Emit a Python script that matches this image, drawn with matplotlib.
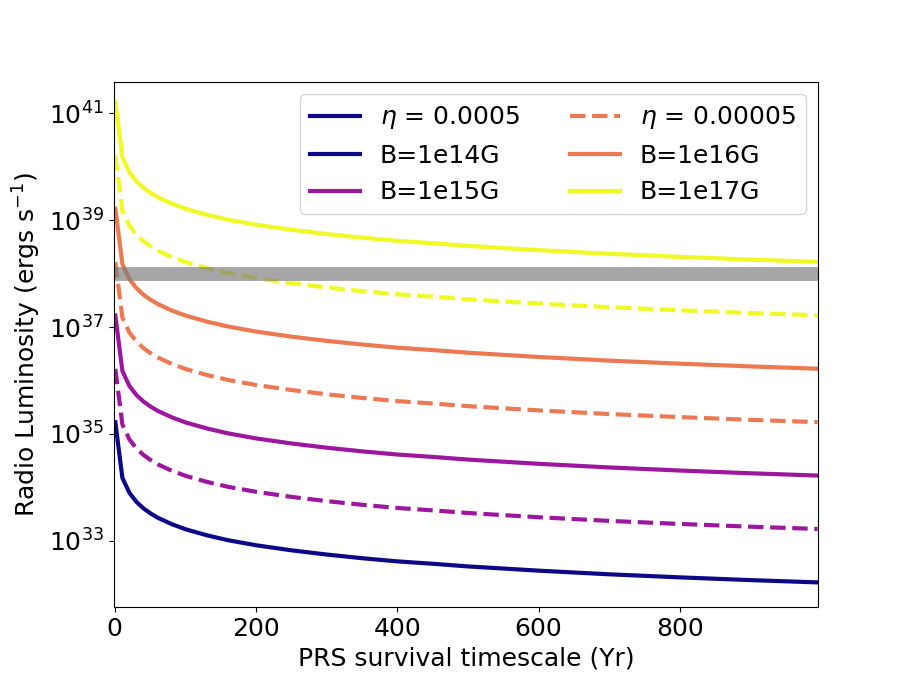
import matplotlib
matplotlib.use("Agg")
import matplotlib.pyplot as plt
from matplotlib.lines import Line2D

plt.rcParams['font.size'] = 18

# PRS survival timescale (yr)
t_yr = [1, 11, 21, 31, 41, 51, 61, 81, 101, 131, 161, 201, 251, 301, 351,
        401, 451, 501, 601, 701, 801, 901, 995]

# eta = 0.0005 (solid)
L_B14 = [1.65e35, 1.50e34, 7.86e33, 5.32e33, 4.02e33, 3.24e33, 2.70e33, 2.04e33,
         1.63e33, 1.26e33, 1.02e33, 8.2e32, 6.6e32, 5.5e32, 4.7e32, 4.1e32,
         3.7e32, 3.3e32, 2.75e32, 2.35e32, 2.06e32, 1.83e32, 1.66e32]
L_B15 = [1.65e37, 1.50e36, 7.86e35, 5.32e35, 4.02e35, 3.24e35, 2.70e35, 2.04e35,
         1.63e35, 1.26e35, 1.02e35, 8.2e34, 6.6e34, 5.5e34, 4.7e34, 4.1e34,
         3.7e34, 3.3e34, 2.75e34, 2.35e34, 2.06e34, 1.83e34, 1.66e34]
L_B16 = [1.65e39, 1.50e38, 7.86e37, 5.32e37, 4.02e37, 3.24e37, 2.70e37, 2.04e37,
         1.63e37, 1.26e37, 1.02e37, 8.2e36, 6.6e36, 5.5e36, 4.7e36, 4.1e36,
         3.7e36, 3.3e36, 2.75e36, 2.35e36, 2.06e36, 1.83e36, 1.66e36]
L_B17 = [1.65e41, 1.50e40, 7.86e39, 5.32e39, 4.02e39, 3.24e39, 2.70e39, 2.04e39,
         1.63e39, 1.26e39, 1.02e39, 8.2e38, 6.6e38, 5.5e38, 4.7e38, 4.1e38,
         3.7e38, 3.3e38, 2.75e38, 2.35e38, 2.06e38, 1.83e38, 1.66e38]

# eta = 0.00005 (dashed)
Ld_B15 = [1.65e36, 1.50e35, 7.86e34, 5.32e34, 4.02e34, 3.24e34, 2.70e34, 2.04e34,
          1.63e34, 1.26e34, 1.02e34, 8.2e33, 6.6e33, 5.5e33, 4.7e33, 4.1e33,
          3.7e33, 3.3e33, 2.75e33, 2.35e33, 2.06e33, 1.83e33, 1.66e33]
Ld_B16 = [1.65e38, 1.50e37, 7.86e36, 5.32e36, 4.02e36, 3.24e36, 2.70e36, 2.04e36,
          1.63e36, 1.26e36, 1.02e36, 8.2e35, 6.6e35, 5.5e35, 4.7e35, 4.1e35,
          3.7e35, 3.3e35, 2.75e35, 2.35e35, 2.06e35, 1.83e35, 1.66e35]
Ld_B17 = [1.65e40, 1.50e39, 7.86e38, 5.32e38, 4.02e38, 3.24e38, 2.70e38, 2.04e38,
          1.63e38, 1.26e38, 1.02e38, 8.2e37, 6.6e37, 5.5e37, 4.7e37, 4.1e37,
          3.7e37, 3.3e37, 2.75e37, 2.35e37, 2.06e37, 1.83e37, 1.66e37]

L_obs = 1e38

cmap = plt.get_cmap('plasma')
c14, c15, c16, c17 = cmap(0.0), cmap(1/3), cmap(2/3), cmap(1.0)

fig, ax = plt.subplots(figsize=(9.09, 6.82), dpi=100)

ax.plot(t_yr, L_B14, color=c14, lw=3)
ax.plot(t_yr, L_B15, color=c15, lw=3)
ax.plot(t_yr, L_B16, color=c16, lw=3)
ax.plot(t_yr, L_B17, color=c17, lw=3)
ax.plot(t_yr, Ld_B15, color=c15, lw=3, ls='--')
ax.plot(t_yr, Ld_B16, color=c16, lw=3, ls='--')
ax.plot(t_yr, Ld_B17, color=c17, lw=3, ls='--')

ax.axhline(L_obs, color='grey', alpha=0.7, lw=10)

ax.set_yscale('log')
ax.set_xlim(-1.4, 995.7)
ax.set_ylim(10**31.76, 10**41.59)
ax.set_xlabel('PRS survival timescale (Yr)')
ax.set_ylabel('Radio Luminosity (ergs s$^{-1}$)')

handles = [
    Line2D([], [], color=c14, lw=3, label=r'$\eta$ = 0.0005'),
    Line2D([], [], color=c14, lw=3, label='B=1e14G'),
    Line2D([], [], color=c15, lw=3, label='B=1e15G'),
    Line2D([], [], color=c16, lw=3, ls='--', label=r'$\eta$ = 0.00005'),
    Line2D([], [], color=c16, lw=3, label='B=1e16G'),
    Line2D([], [], color=c17, lw=3, label='B=1e17G'),
]
ax.legend(handles=handles, ncol=2, loc='upper right')

plt.savefig('out.png', dpi=100)
